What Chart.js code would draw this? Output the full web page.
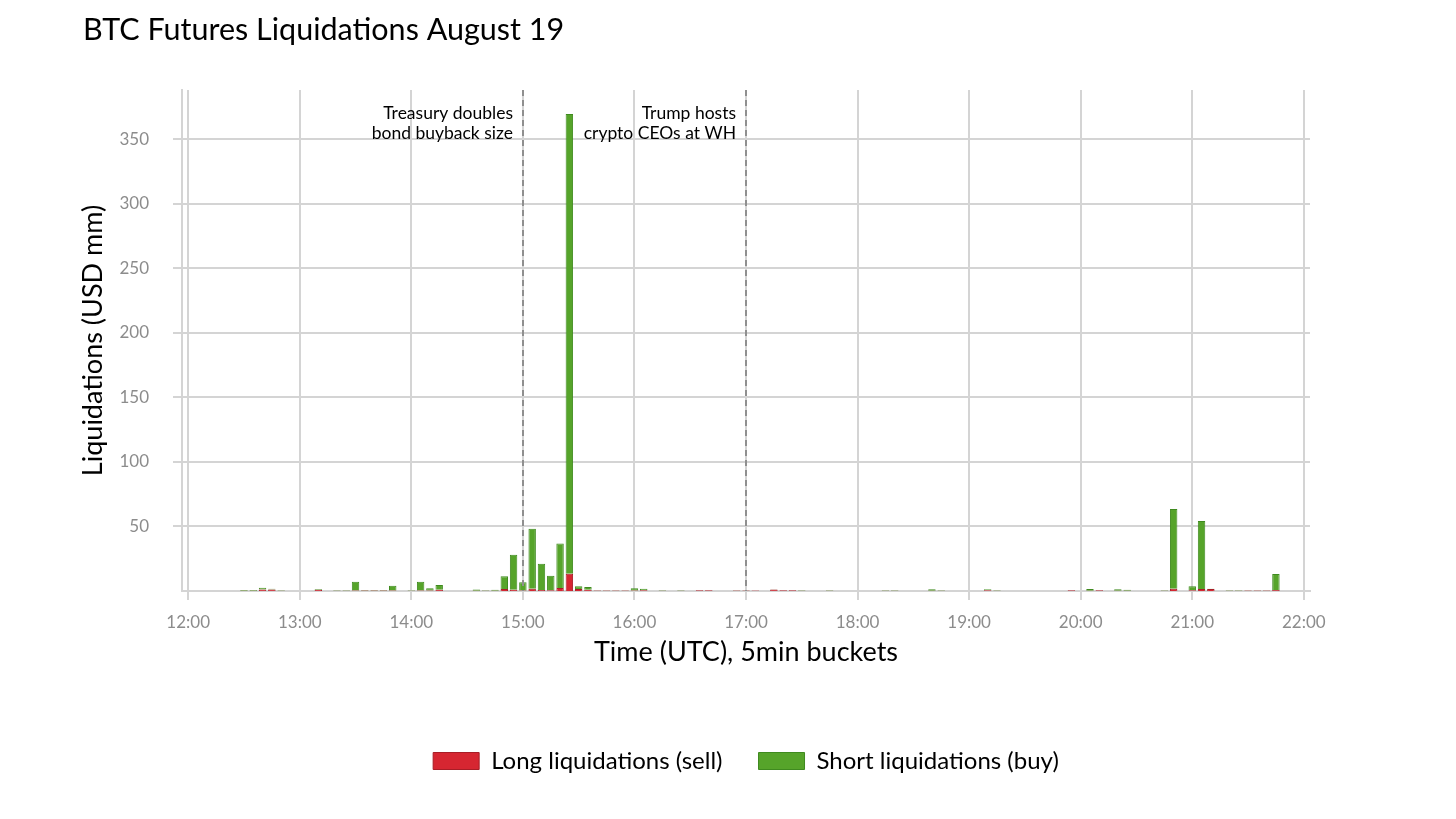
<!DOCTYPE html>
<html><head><meta charset="utf-8">
<script src="https://cdn.jsdelivr.net/npm/chart.js@4.4.1/dist/chart.umd.min.js"></script>
<style>html,body{margin:0;padding:0;background:#fff;}#wrap{width:1456px;height:819px;}</style>
</head><body><div id="wrap"><canvas id="c" width="1456" height="819"></canvas></div>
<script>
// 5-minute buckets (UTC) and liquidations in USD mm
const bucketTimes = ['12:30','12:35','12:40','12:45','12:50','13:10','13:20','13:25','13:30','13:35','13:40','13:45','13:50',
  '14:00','14:05','14:10','14:15','14:35','14:40','14:45','14:50','14:55','15:00','15:05','15:10','15:15','15:20','15:25',
  '15:30','15:35','15:40','15:45','15:50','15:55','16:00','16:05','16:15','16:25','16:35','16:40','16:55','17:00','17:05',
  '17:15','17:20','17:25','17:30','17:45','18:15','18:20','18:40','18:45','19:10','19:15','19:55','20:05','20:10','20:20',
  '20:25','20:45','20:50','21:00','21:05','21:10','21:20','21:25','21:30','21:35','21:40','21:45'];
const longLiq = [0.2,0.2,1.2,1.2,0.1,1.0,0.1,0.1,0.3,0.4,0.4,0.3,0.3,
  0.1,0.3,0.3,1.0,0.2,0.1,0.2,1.5,1.0,0.3,1.8,0.8,0.5,2.3,13.4,
  1.6,1.0,0.3,0.3,0.3,0.3,0.3,0.6,0.1,0.1,0.5,0.5,0.4,0.4,0.3,
  1.2,0.5,0.5,0.1,0.1,0.1,0.1,0.1,0.1,0.6,0.1,0.5,0.2,0.5,0.1,
  0.1,0.1,1.8,0.5,1.5,1.5,0.1,0.1,0.4,0.4,0.4,0.7];
const shortLiq = [0.6,0.6,1.4,0.6,0.5,0.5,0.4,0.5,6.9,0.3,0.3,0.4,3.8,
  0.4,6.9,1.8,3.7,1.0,0.4,0.8,9.9,27.0,6.5,46.4,20.4,11.4,34.4,356.0,
  2.0,2.1,0.2,0.2,0.2,0.2,1.8,1.2,0.4,0.4,0.1,0.1,0.1,0.1,0.1,
  0.1,0.1,0.1,0.4,0.5,0.5,0.4,1.2,0.5,0.7,0.4,0.1,1.3,0.1,1.2,
  0.9,0.4,61.8,3.1,52.8,0.2,0.4,0.4,0.1,0.1,0.1,12.5];
const xTickLabels = ['12:00','13:00','14:00','15:00','16:00','17:00','18:00','19:00','20:00','21:00','22:00'];
const yTickValues = [50,100,150,200,250,300,350];
const eventTimes = ['15:00','17:00'];
const eventLabels = [['Treasury doubles','bond buyback size'],['Trump hosts','crypto CEOs at WH']];

const FONT = 'Lato, "Noto Sans", sans-serif';
const GRID = '#d4d4d4';
function toMin(t){ const [h,m] = t.split(':').map(Number); return (h-12)*60 + m; }

const eventPlugin = {
  id: 'events',
  afterDatasetsDraw(chart){
    const {ctx, chartArea, scales:{x}} = chart;
    eventTimes.forEach((t,i)=>{
      const px = Math.round(x.getPixelForValue(toMin(t)));
      ctx.save();
      ctx.strokeStyle = '#8f8f8f';
      ctx.lineWidth = 2;
      ctx.setLineDash([6,4]);
      ctx.beginPath(); ctx.moveTo(px, chartArea.top); ctx.lineTo(px, chartArea.bottom); ctx.stroke();
      ctx.setLineDash([]);
      ctx.fillStyle = '#000';
      ctx.font = '17.5px ' + FONT;
      ctx.textAlign = 'right';
      ctx.textBaseline = 'middle';
      eventLabels[i].forEach((line,j)=> ctx.fillText(line, px-10, chartArea.top + 23 + j*20));
      ctx.restore();
    });
  }
};

new Chart(document.getElementById('c'), {
  type: 'bar',
  data: {
    datasets: [
      { label: 'Long liquidations (sell)', data: bucketTimes.map((t,i)=>({x: toMin(t), y: longLiq[i]})),
        backgroundColor: '#D62631', borderColor: '#a81d26', borderWidth: 1 },
      { label: 'Short liquidations (buy)', data: bucketTimes.map((t,i)=>({x: toMin(t), y: shortLiq[i]})),
        backgroundColor: '#56A42A', borderColor: '#3f8a1f', borderWidth: 1 }
    ]
  },
  options: {
    responsive: false,
    animation: false,
    devicePixelRatio: 1,
    barPercentage: 0.8,
    categoryPercentage: 1.0,
    layout: { padding: { left: 83, right: 146, top: 0, bottom: 36 } },
    plugins: {
      title: { display: true, text: 'BTC Futures Liquidations August 19', align: 'start', color: '#000',
        font: { family: FONT, size: 30.5, weight: 'normal' }, padding: { top: 11.7, bottom: 41.7 } },
      legend: { position: 'bottom', fullSize: false, labels: { boxWidth: 46, boxHeight: 17, padding: 36, color: '#000',
        font: { family: FONT, size: 24 } } },
      tooltip: { enabled: false }
    },
    scales: {
      x: {
        type: 'linear', stacked: true, offset: false, min: -3.33, max: 603.33,
        afterBuildTicks: s => { s.ticks = xTickLabels.map((_,i)=>({value: i*60})); },
        afterFit: s => { s.height = 122; },
        ticks: { autoSkip: false, maxRotation: 0, padding: 12, color: '#8c8c8c',
          font: { family: FONT, size: 17 }, callback: (v, i) => xTickLabels[i] },
        grid: { color: GRID, lineWidth: 2, tickLength: 9, drawTicks: true, offset: false },
        border: { display: true, color: GRID, width: 2 },
        title: { display: true, text: 'Time (UTC), 5min buckets', color: '#000',
          font: { family: FONT, size: 27 }, padding: { top: 0, bottom: 44.8 } }
      },
      y: {
        stacked: true, min: 0, max: 388,
        afterBuildTicks: s => { s.ticks = yTickValues.map(v=>({value: v})); },
        afterFit: s => { s.width = 99; },
        ticks: { padding: 24, color: '#8c8c8c', font: { family: FONT, size: 17 } },
        grid: { color: GRID, lineWidth: 2, tickLength: 9, drawTicks: true },
        border: { display: true, color: GRID, width: 2 },
        title: { display: true, text: 'Liquidations (USD mm)', color: '#000',
          font: { family: FONT, size: 27, lineHeight: 0.75 }, padding: { top: 0, bottom: 0 } }
      }
    }
  },
  plugins: [eventPlugin]
});
</script></body></html>
